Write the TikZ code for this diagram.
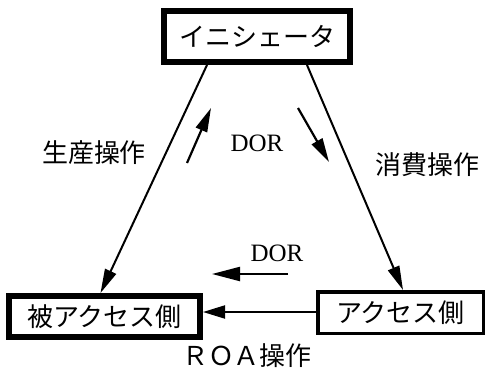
\documentclass[tikz,border=0pt]{standalone}
\usepackage{fontspec}
\setmainfont{Liberation Serif}
\newfontfamily\jp{Noto Sans CJK JP}
\usetikzlibrary{arrows.meta}
\begin{document}
\begin{tikzpicture}[x=1pt,y=-1pt,
  boxthick/.style={draw,line width=6pt,inner sep=0pt,font=\jp\fontsize{26}{30}\selectfont},
  boxthin/.style={draw,line width=3.5pt,inner sep=0pt,font=\jp\fontsize{26}{30}\selectfont},
  lbl/.style={font=\jp\fontsize{26}{30}\selectfont,inner sep=0pt},
  dor/.style={font=\fontsize{25}{28}\selectfont,inner sep=0pt},
  conn/.style={line width=2pt,-{Triangle[length=24pt,width=12pt]}},
  small/.style={line width=2.2pt,-{Triangle[length=24pt,width=12pt]}}]
\useasboundingbox (0,0) rectangle (491,368);
\node[boxthick,minimum width=186pt,minimum height=51pt] (ini) at (257,36.5) {イニシェータ};
\node[boxthick,minimum width=191pt,minimum height=41pt] (hi) at (104.5,316.5) {被アクセス側};
\node[boxthin,minimum width=165.5pt,minimum height=41.5pt] (ac) at (400.5,312.5) {アクセス側};
\draw[conn] ([xshift=-50pt]ini.south) -- ([xshift=-4pt]hi.north);
\draw[conn] ([xshift=50pt]ini.south) -- ([xshift=2.5pt]ac.north);
\draw[line width=2pt,-{Triangle[length=22pt,width=13pt]}] (ac.west |- 0,312) -- (hi.east |- 0,312);
\node[lbl] (sei) at (94,153) {生産操作};
\node[lbl] (sho) at (427,165) {消費操作};
\node[lbl] (roa) at (247,356) {ＲＯＡ操作};
\node[dor] (dor1) at (257,143) {DOR};
\node[dor] (dor2) at (277,253) {DOR};
\coordinate (u1) at (187,163); \coordinate (u2) at (211,108);
\coordinate (d1) at (298,108); \coordinate (d2) at (329,162);
\coordinate (l1) at (288,274); \coordinate (l2) at (212,274);
\draw[small] (u1) -- (u2);
\draw[small] (d1) -- (d2);
\draw[line width=2.2pt,-{Triangle[length=28pt,width=14pt]}] (l1) -- (l2);
\end{tikzpicture}
\end{document}
